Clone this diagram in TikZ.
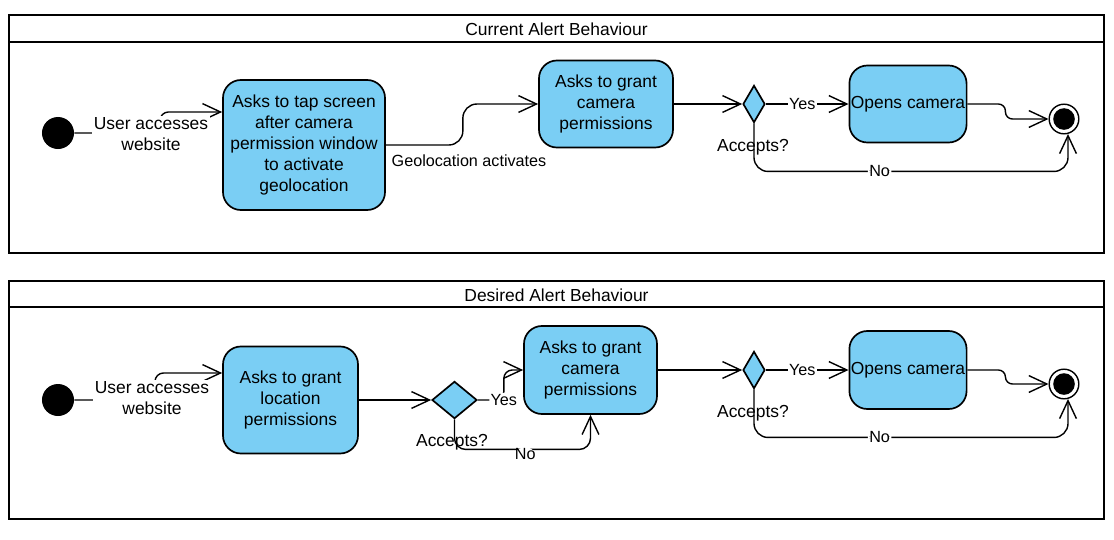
\documentclass[tikz,border=0pt]{standalone}
\usepackage{fontspec}
\setmainfont{Liberation Sans}
\usepackage{tikz}
\usetikzlibrary{positioning, arrows.meta, shapes.geometric}
\definecolor{actblue}{RGB}{122,206,244}

\begin{document}
\begin{tikzpicture}[
    x=0.025cm, y=-0.025cm, % one unit is one pixel of the sketch
    actnode/.style={draw, rectangle, rounded corners=0.45cm, fill=actblue, line width=1.2pt, align=center, inner sep=1pt, font=\fontsize{12.4}{15}\selectfont},
    decnode/.style={draw, diamond, fill=actblue, line width=1.2pt, inner sep=0pt, minimum width=0.55cm, minimum height=0.93cm},
    startnode/.style={circle, fill=black, minimum size=0.8cm, inner sep=0pt},
    endnode/.style={circle, draw, line width=1pt, minimum size=0.74cm, inner sep=0pt, path picture={\fill (path picture bounding box.center) circle (0.27cm);}},
    flow/.style={-{Straight Barb[length=0.45cm, width=0.42cm]}, line width=1pt},
    lbl/.style={fill=white, inner sep=1pt, align=center, font=\fontsize{12.4}{15}\selectfont},
    smalllbl/.style={fill=white, inner sep=1pt, font=\fontsize{11.5}{13}\selectfont},
    panel/.style={line width=1.8pt}
]
\useasboundingbox (0,0) rectangle (1114,540);

% Current behaviour
\draw[panel] (9,15) rectangle (1104,253);
\draw[panel] (9,42) -- (1104,42);
\node[lbl, fill=none] (t1) at (556.5,29) {Current Alert Behaviour};

\node[startnode] (s1) at (58,133) {};
\node[actnode, minimum width=4.05cm, minimum height=3.25cm] (a1) at (304,145) {Asks to tap screen\\after camera\\permission window\\to activate\\geolocation};
\node[actnode, minimum width=3.35cm, minimum height=2.175cm] (g1) at (606,104) {Asks to grant\\camera\\permissions};
\node[decnode] (d1) at (754,104) {};
\node[actnode, minimum width=2.9cm, minimum height=1.925cm] (o1) at (908,104) {Opens camera};
\node[endnode] (e1) at (1064,119) {};
\node[lbl, fill=none] (q1) at (753,147) {Accepts?};

\draw[flow, rounded corners=6pt] (s1) -- ++(102,0) |- ([yshift=0.825cm]a1.west);
\node[lbl] (u1) at (151,134) {User accesses\\website};
\draw[flow, rounded corners=10pt] (a1.east) -- ++(77,0) |- (g1.west);
\node[smalllbl, fill=none] (l1) at (469,161) {Geolocation activates};
\draw[flow] (g1) -- (d1);
\draw[flow] (d1) -- node[smalllbl, pos=0.44] {Yes} (o1);
\draw[flow, rounded corners=5pt] (o1.east) -- ++(38,0) |- (e1.west);
\draw[flow, rounded corners=10pt] (d1.south) -- ++(0,48) -| node[smalllbl, pos=0.2] {No} (e1.-75);

% Desired behaviour
\draw[panel] (9,281) rectangle (1104,519);
\draw[panel] (9,307) -- (1104,307);
\node[lbl, fill=none] (t2) at (556.5,295) {Desired Alert Behaviour};

\node[startnode] (s2) at (58,400) {};
\node[actnode, minimum width=3.375cm, minimum height=2.675cm] (b1) at (290.5,400) {Asks to grant\\location\\permissions};
\node[decnode, minimum width=1.125cm] (d2) at (454.5,400) {};
\node[actnode, minimum width=3.325cm, minimum height=2.2cm] (c2) at (590.5,370) {Asks to grant\\camera\\permissions};
\node[decnode] (d3) at (754,370) {};
\node[actnode, minimum width=2.9cm, minimum height=1.95cm] (o2) at (908,370) {Opens camera};
\node[endnode] (e2) at (1064,384) {};
\node[lbl, fill=none] (q2) at (452,442) {Accepts?};
\node[lbl, fill=none] (q3) at (753,413) {Accepts?};

\draw[flow, rounded corners=6pt] (s2) -- ++(97,0) |- ([yshift=0.675cm]b1.west);
\node[lbl] (u2) at (152,398) {User accesses\\website};
\draw[flow] (b1) -- (d2);
\draw[flow, rounded corners=6pt] (d2.east) -- ++(26,0) node[smalllbl] {Yes} |- (c2.west);
\draw[flow, rounded corners=8pt] (d2.south) -- ++(0,30) -| node[smalllbl, pos=0.26, yshift=-0.125cm] {No} (c2.south);
\draw[flow] (c2) -- (d3);
\draw[flow] (d3) -- node[smalllbl, pos=0.44] {Yes} (o2);
\draw[flow, rounded corners=5pt] (o2.east) -- ++(38,0) |- (e2.west);
\draw[flow, rounded corners=10pt] (d3.south) -- ++(0,48) -| node[smalllbl, pos=0.2] {No} (e2.-75);

\end{tikzpicture}
\end{document}
